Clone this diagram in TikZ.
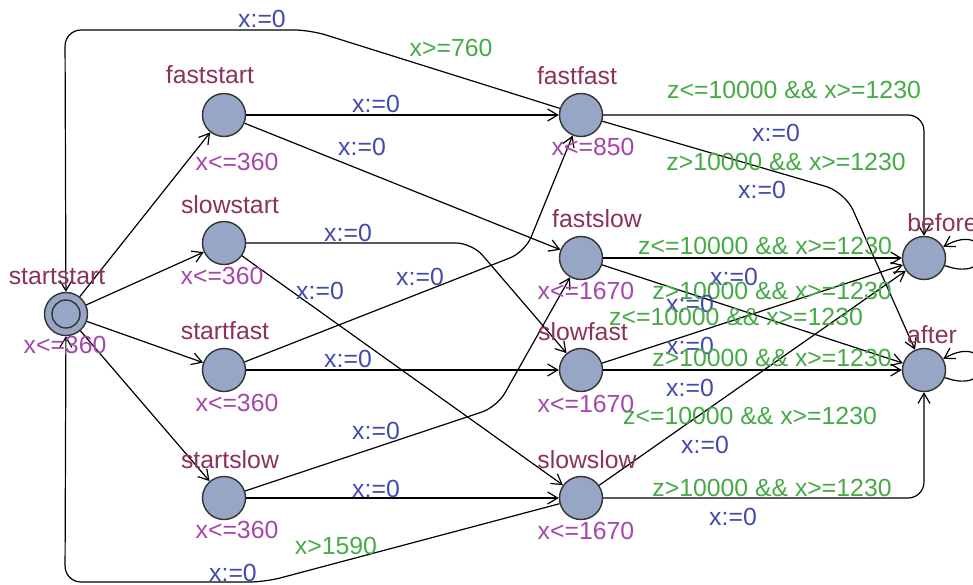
\documentclass[tikz,border=0pt]{standalone}
\usepackage{fontspec}
\setmainfont{Liberation Sans}
\usetikzlibrary{arrows.meta}
\definecolor{locfill}{RGB}{152,166,198}
\definecolor{namecol}{RGB}{140,50,90}
\definecolor{invcol}{RGB}{165,70,170}
\definecolor{guardcol}{RGB}{70,170,70}
\definecolor{assigncol}{RGB}{65,75,175}
\begin{document}
\begin{tikzpicture}[x=0.5pt,y=-0.5pt,
  loc/.style={circle,draw=black!80,line width=0.7pt,fill=locfill,minimum size=21.5pt,inner sep=0pt},
  lbl/.style={inner sep=0pt,font=\fontsize{12.4}{14}\selectfont},
  nm/.style={lbl,text=namecol},
  inv/.style={lbl,text=invcol},
  grd/.style={lbl,text=guardcol},
  asg/.style={lbl,text=assigncol},
  edge/.style={draw,line width=0.6pt,-{Straight Barb[length=5pt,width=6pt]}},
]
\useasboundingbox (0,0) rectangle (973,584);

% locations
\node[loc] (startstart) at (66,314) {};
\node[circle,draw=black!80,line width=0.7pt,minimum size=14pt,inner sep=0pt] (startinner) at (66,314) {};
\node[loc] (faststart) at (224,115) {};
\node[loc] (slowstart) at (224,243) {};
\node[loc] (startfast) at (224,370) {};
\node[loc] (startslow) at (224,498) {};
\node[loc] (fastfast) at (581,115) {};
\node[loc] (fastslow) at (581,258) {};
\node[loc] (slowfast) at (581,370) {};
\node[loc] (slowslow) at (581,498) {};
\node[loc] (before) at (924,258) {};
\node[loc] (after) at (924,370) {};

% edges from startstart
\draw[edge] (startstart) -- (faststart);
\draw[edge] (startstart) -- (slowstart);
\draw[edge] (startstart) -- (startfast);
\draw[edge] (startstart) -- (startslow);

% second column
\draw[edge] (faststart) -- (fastfast);
\draw[edge] (faststart) -- (fastslow);
\draw[edge,rounded corners=8pt] (slowstart) -- (472,243) -- (slowfast);
\draw[edge] (slowstart) -- (slowslow);
\draw[edge,rounded corners=8pt] (startfast) -- (525,252) -- (fastfast);
\draw[edge] (startfast) -- (slowfast);
\draw[edge,rounded corners=8pt] (startslow) -- (497,407) -- (fastslow);
\draw[edge] (startslow) -- (slowslow);

% back loops
\draw[edge,rounded corners=8pt] (fastfast) -- (310,30) -- (65,30) -- (startstart);
\draw[edge,rounded corners=8pt] (slowslow) -- (265,582) -- (65,582) -- (startstart);

% to before / after
\draw[edge,rounded corners=8pt] (fastfast) -- (924,115) -- (before);
\draw[edge,rounded corners=10pt] (fastfast) -- (845,192) -- (after);
\draw[edge] (fastslow) -- (before);
\draw[edge] (fastslow) -- (after);
\draw[edge] (slowfast) -- (before);
\draw[edge] (slowfast) -- (after);
\draw[edge] (slowslow) -- (before);
\draw[edge,rounded corners=8pt] (slowslow) -- (924,498) -- (after);

% self loops
\draw[edge] (before.-20) .. controls +(-20:28pt) and +(30:28pt) .. (before.30);
\draw[edge] (after.-20) .. controls +(-20:28pt) and +(30:28pt) .. (after.30);

% location names
\node[nm] (n1) at (57,277) {startstart};
\node[nm] (n2) at (210,75) {faststart};
\node[nm] (n3) at (230,205) {slowstart};
\node[nm] (n4) at (225,331) {startfast};
\node[nm] (n5) at (230,460) {startslow};
\node[nm] (n6) at (577,76) {fastfast};
\node[nm] (n7) at (597,219) {fastslow};
\node[nm] (n8) at (583,332) {slowfast};
\node[nm] (n9) at (587,460) {slowslow};
\node[nm,anchor=west] (n10) at (907,223) {before};
\node[nm] (n11) at (932,335) {after};

% invariants
\node[inv] (i1) at (65,345) {x<=360};
\node[inv] (i2) at (237,162) {x<=360};
\node[inv] (i3) at (222,276) {x<=360};
\node[inv] (i4) at (237,403) {x<=360};
\node[inv] (i5) at (237,530) {x<=360};
\node[inv] (i6) at (593,147) {x<=850};
\node[inv] (i7) at (586,291) {x<=1670};
\node[inv] (i8) at (586,404) {x<=1670};
\node[inv] (i9) at (586,531) {x<=1670};

% edge labels, left part
\node[asg] (a1) at (262,19) {x:=0};
\node[grd] (g1) at (451,48) {x>=760};
\node[asg] (a2) at (376,104) {x:=0};
\node[asg] (a3) at (362,147) {x:=0};
\node[asg] (a4) at (348,233) {x:=0};
\node[asg] (a5) at (320,291) {x:=0};
\node[asg] (a6) at (420,277) {x:=0};
\node[asg] (a7) at (348,359) {x:=0};
\node[asg] (a8) at (376,431) {x:=0};
\node[asg] (a9) at (376,489) {x:=0};
\node[grd] (g2) at (336,546) {x>1590};
\node[asg] (a10) at (233,573) {x:=0};

% edge labels, right part
\node[grd] (g3) at (794,90) {z<=10000 \&\& x>=1230};
\node[asg] (a11) at (776,133) {x:=0};
\node[grd] (g4) at (786,162) {z>10000 \&\& x>=1230};
\node[asg] (a12) at (762,190) {x:=0};
\node[grd] (g5) at (765,246) {z<=10000 \&\& x>=1230};
\node[asg] (a13) at (734,277) {x:=0};
\node[grd] (g6) at (772,291) {z>10000 \&\& x>=1230};
\node[asg] (a14) at (690,304) {x:=0};
\node[grd] (g7) at (736,317) {z<=10000 \&\& x>=1230};
\node[asg] (a15) at (690,346) {x:=0};
\node[grd] (g8) at (772,358) {z>10000 \&\& x>=1230};
\node[asg] (a16) at (690,388) {x:=0};
\node[grd] (g9) at (750,416) {z<=10000 \&\& x>=1230};
\node[asg] (a17) at (705,445) {x:=0};
\node[grd] (g10) at (772,488) {z>10000 \&\& x>=1230};
\node[asg] (a18) at (733,517) {x:=0};
\end{tikzpicture}
\end{document}
